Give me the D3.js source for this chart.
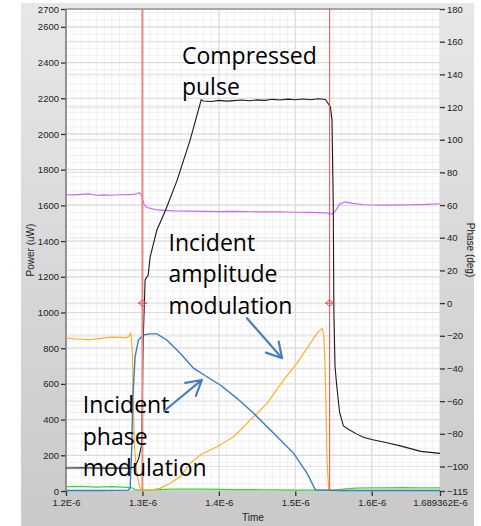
<!DOCTYPE html>
<html><head><meta charset="utf-8">
<script src="https://cdn.jsdelivr.net/npm/d3@7"></script>
<style>body{margin:0;background:#fff;} svg{display:block;}</style>
</head><body>
<svg id="c" width="481" height="526"></svg>
<script>
// ---------- data (time in units of 1E-6 s) ----------
const timeTicks = [1.2, 1.3, 1.4, 1.5, 1.6, 1.689362];
const timeTickLabels = ["1.2E-6", "1.3E-6", "1.4E-6", "1.5E-6", "1.6E-6", "1.689362E-6"];
const powerTicks = [0, 200, 400, 600, 800, 1000, 1200, 1400, 1600, 1800, 2000, 2200, 2400, 2600, 2700];
const phaseTicks = [180, 160, 140, 120, 100, 80, 60, 40, 20, 0, -20, -40, -60, -80, -100, -115];
const cursorTimes = [1.3, 1.545];
const cursorPhase = 0;

const compressedPulse = [
  [1.200,129],[1.220,130],[1.240,128],[1.260,129],[1.280,128],[1.2839,129],[1.2900,135],[1.2950,180],
  [1.2990,260],[1.3005,700],[1.3013,885],[1.3035,1182],[1.3075,1210],[1.3101,1311],[1.3189,1462],
  [1.3300,1570],[1.3451,1737],[1.3625,1967],[1.3769,2191],[1.3800,2185],[1.3900,2182],[1.4000,2188],
  [1.4100,2184],[1.4200,2187],[1.4300,2190],[1.4400,2186],[1.4500,2191],[1.4600,2188],[1.4700,2194],
  [1.4800,2190],[1.4900,2195],[1.5000,2192],[1.5100,2196],[1.5200,2192],[1.5300,2197],[1.5394,2193],
  [1.5460,2152],[1.5480,2079],[1.5497,1600],[1.5505,1000],[1.5520,700],[1.5540,600],[1.5580,440],
  [1.5630,365],[1.5700,345],[1.5800,320],[1.5900,300],[1.6000,288],[1.6200,270],[1.6400,250],
  [1.6640,222],[1.6894,211]
];
const phaseTrace = [
  [1.200,66.3],[1.210,66.2],[1.220,66.6],[1.230,66.8],[1.240,66.0],[1.250,66.2],[1.260,66.0],
  [1.270,66.3],[1.280,66.4],[1.290,66.5],[1.296,67.6],[1.299,66.0],[1.302,60.5],[1.306,58.5],
  [1.312,57.8],[1.320,57.0],[1.340,56.5],[1.360,56.3],[1.380,56.2],[1.400,56.0],[1.420,56.1],
  [1.440,55.9],[1.460,55.8],[1.480,55.9],[1.500,55.6],[1.520,55.5],[1.540,55.2],[1.548,54.4],
  [1.552,56.0],[1.558,60.5],[1.565,62.0],[1.575,61.0],[1.590,60.2],[1.620,60.0],[1.650,60.2],
  [1.670,60.4],[1.689362,60.8]
];
const amplitudeMod = [
  [1.200,858],[1.210,852],[1.220,850],[1.230,848],[1.240,852],[1.250,858],[1.260,862],[1.270,860],
  [1.278,858],[1.282,866],[1.2845,882],[1.2852,870],[1.2869,772],[1.2882,435],[1.2895,248],
  [1.2927,99],[1.2961,24],[1.2992,6],[1.310,5],[1.3232,15],[1.3363,43],[1.3494,80],[1.3625,155],
  [1.3756,202],[1.3975,248],[1.4193,304],[1.4412,398],[1.4630,491],[1.4848,622],[1.5024,716],
  [1.5198,828],[1.5286,884],[1.5351,911],[1.5372,874],[1.5385,753],[1.5404,435],[1.5417,155],
  [1.5438,6],[1.560,4],[1.600,3],[1.689362,3]
];
const phaseMod = [
  [1.200,3],[1.250,3],[1.2817,5],[1.2839,17],[1.2861,248],[1.2874,528],[1.2904,752],[1.2948,846],
  [1.3013,874],[1.3101,880],[1.3189,880],[1.3320,846],[1.3494,772],[1.3668,688],[1.3844,640],
  [1.4018,594],[1.4237,519],[1.4455,435],[1.4717,323],[1.4979,211],[1.5155,99],[1.5263,6],
  [1.560,3],[1.600,3],[1.689362,3]
];
const referenceTrace = [
  [1.200,24],[1.220,26],[1.240,22],[1.260,24],[1.280,20],[1.286,18],[1.290,8],[1.300,5],[1.320,8],
  [1.340,10],[1.360,10],[1.380,11],[1.400,9],[1.420,8],[1.440,8],[1.460,7],[1.480,6],[1.500,5],
  [1.520,5],[1.540,5],[1.550,4],[1.565,12],[1.580,16],[1.600,17],[1.620,18],[1.640,19],[1.660,18],
  [1.689362,17]
];
// annotations: [time, power] anchors
const labelCompressed = { lines: ["Compressed", "pulse"], at: [1.3517, 2393] };
const labelAmplitude = { lines: ["Incident", "amplitude", "modulation"], at: [1.3341, 1347] };
const labelPhase = { lines: ["Incident", "phase", "modulation"], at: [1.2219, 435] };
const arrowAmplitude = [[1.4368, 968], [1.4827, 744]];
const arrowPhase = [[1.3284, 448], [1.3778, 622]];

// ---------- layout ----------
const L = 66, R = 440, T = 9, B = 491;
const svg = d3.select("#c");
const x = d3.scaleLinear().domain([1.2, 1.689362]).range([L, R]);
const yP = d3.scaleLinear().domain([0, 2700]).range([B, T]);
const yPh = d3.scaleLinear().domain([-115, 180]).range([B, T]);

const defs = svg.append("defs");
const g = defs.append("linearGradient").attr("id", "bg").attr("x1", 0).attr("y1", 0).attr("x2", 0).attr("y2", 1);
g.append("stop").attr("offset", "0%").attr("stop-color", "#e7e7e7");
g.append("stop").attr("offset", "100%").attr("stop-color", "#c9c9c9");
defs.append("clipPath").attr("id", "clip").append("rect").attr("x", L).attr("y", T).attr("width", R - L).attr("height", B - T + 1);

svg.append("rect").attr("x", 21).attr("y", 3).attr("width", 453).attr("height", 523).attr("fill", "url(#bg)");
svg.append("rect").attr("x", L).attr("y", T).attr("width", R - L).attr("height", B - T).attr("fill", "#fff");

// grid
const grid = svg.append("g").attr("clip-path", "url(#clip)");
const minorT = d3.range(1.2, 1.6894, 0.01);
const minorP = d3.range(0, 2701, 40);
grid.selectAll(".mv").data(minorT).join("line")
  .attr("x1", d => x(d)).attr("x2", d => x(d)).attr("y1", T).attr("y2", B)
  .attr("stroke", "#f0f0f0").attr("stroke-width", 1);
grid.selectAll(".mh").data(minorP).join("line")
  .attr("x1", L).attr("x2", R).attr("y1", d => yP(d)).attr("y2", d => yP(d))
  .attr("stroke", "#f0f0f0").attr("stroke-width", 1);
grid.selectAll(".Mv").data(timeTicks).join("line")
  .attr("x1", d => x(d)).attr("x2", d => x(d)).attr("y1", T).attr("y2", B)
  .attr("stroke", "#dcdcdc").attr("stroke-width", 1.2);
grid.selectAll(".Mh").data(powerTicks).join("line")
  .attr("x1", L).attr("x2", R).attr("y1", d => yP(d)).attr("y2", d => yP(d))
  .attr("stroke", "#dcdcdc").attr("stroke-width", 1.2);
grid.selectAll(".Mh2").data(phaseTicks).join("line")
  .attr("x1", L).attr("x2", R).attr("y1", d => yPh(d)).attr("y2", d => yPh(d))
  .attr("stroke", "#e2e2e2").attr("stroke-width", 1.2);

// axes
const axisFont = "'Liberation Sans', Arial, sans-serif";
function styleAxis(sel) {
  sel.select(".domain").remove();
  sel.selectAll(".tick line").attr("stroke", "#333").attr("stroke-width", 1.3);
  sel.selectAll(".tick text").attr("fill", "#222").style("font-family", axisFont).style("font-size", "9.5px");
}
svg.append("g").attr("transform", `translate(${L},0)`)
  .call(d3.axisLeft(yP).tickValues(powerTicks).tickSize(5).tickPadding(2).tickFormat(d3.format("d")))
  .call(styleAxis);
svg.append("g").attr("transform", `translate(${R},0)`)
  .call(d3.axisRight(yPh).tickValues(phaseTicks).tickSize(5).tickPadding(2).tickFormat(d3.format("d")))
  .call(styleAxis);
svg.append("g").attr("transform", `translate(0,${B})`)
  .call(d3.axisBottom(x).tickValues(timeTicks).tickSize(5).tickPadding(3).tickFormat((d, i) => timeTickLabels[i]))
  .call(styleAxis);

// frame lines
svg.append("line").attr("x1", L).attr("x2", R).attr("y1", T).attr("y2", T).attr("stroke", "#666").attr("stroke-width", 1.2);
svg.append("line").attr("x1", L).attr("x2", L).attr("y1", T).attr("y2", B).attr("stroke", "#777").attr("stroke-width", 1.5);
svg.append("line").attr("x1", L).attr("x2", R).attr("y1", B).attr("y2", B).attr("stroke", "#bbb").attr("stroke-width", 1);

// axis titles
svg.append("text").attr("x", (L + R) / 2).attr("y", 521).attr("text-anchor", "middle")
  .style("font-family", axisFont).style("font-size", "10px").attr("fill", "#222").text("Time");
svg.append("text").attr("transform", `translate(34,250) rotate(-90)`).attr("text-anchor", "middle")
  .style("font-family", axisFont).style("font-size", "10px").attr("fill", "#222").text("Power (uW)");
svg.append("text").attr("transform", `translate(467,250) rotate(90)`).attr("text-anchor", "middle")
  .style("font-family", axisFont).style("font-size", "10px").attr("fill", "#222").text("Phase (deg)");

// traces
const plot = svg.append("g").attr("clip-path", "url(#clip)");
const lineP = d3.line().x(d => x(d[0])).y(d => yP(d[1]));
const linePh = d3.line().x(d => x(d[0])).y(d => yPh(d[1]));
plot.append("path").datum(referenceTrace).attr("d", lineP).attr("fill", "none").attr("stroke", "#2fdc2f").attr("stroke-width", 1.2);
plot.append("path").datum(phaseTrace).attr("d", linePh).attr("fill", "none").attr("stroke", "#cc66ff").attr("stroke-width", 1.2);
plot.append("path").datum(amplitudeMod).attr("d", lineP).attr("fill", "none").attr("stroke", "#fbb02a").attr("stroke-width", 1.2);
plot.append("path").datum(phaseMod).attr("d", lineP).attr("fill", "none").attr("stroke", "#3a7cc0").attr("stroke-width", 1.4);
plot.append("path").datum(compressedPulse).attr("d", lineP).attr("fill", "none").attr("stroke", "#1a1a1a").attr("stroke-width", 1.1);

// cursors
plot.append("line").attr("x1", x(cursorTimes[0])).attr("x2", x(cursorTimes[0])).attr("y1", T).attr("y2", B)
  .attr("stroke", "#f08585").attr("stroke-width", 2);
plot.append("line").attr("x1", x(cursorTimes[1])).attr("x2", x(cursorTimes[1])).attr("y1", T).attr("y2", B)
  .attr("stroke", "#ea4a4a").attr("stroke-width", 1);
cursorTimes.forEach(t => {
  const cx = x(t), cy = yPh(cursorPhase);
  const m = plot.append("g");
  m.append("path").attr("d", `M${cx - 3.5},${cy}L${cx},${cy - 3.5}L${cx + 3.5},${cy}L${cx},${cy + 3.5}Z`)
    .attr("fill", "none").attr("stroke", "#e85050").attr("stroke-width", 1);
  m.append("line").attr("x1", cx - 5).attr("x2", cx + 5).attr("y1", cy).attr("y2", cy).attr("stroke", "#e85050").attr("stroke-width", 1);
});

// annotations
const annFont = "'Open Sans', sans-serif";
[labelCompressed, labelAmplitude, labelPhase].forEach(lb => {
  const t = svg.append("text").attr("x", x(lb.at[0])).attr("y", yP(lb.at[1]))
    .style("font-family", annFont).style("font-size", "23px").attr("fill", "#000");
  lb.lines.forEach((s, i) => t.append("tspan").attr("x", x(lb.at[0])).attr("dy", i === 0 ? 0 : 31.5).text(s));
});
function arrow(a) {
  const x0 = x(a[0][0]), y0 = yP(a[0][1]), x1 = x(a[1][0]), y1 = yP(a[1][1]);
  const ang = Math.atan2(y1 - y0, x1 - x0), len = 17, spread = 0.52;
  const p = d3.path();
  p.moveTo(x0, y0); p.lineTo(x1, y1);
  p.moveTo(x1 - len * Math.cos(ang - spread), y1 - len * Math.sin(ang - spread));
  p.lineTo(x1, y1);
  p.lineTo(x1 - len * Math.cos(ang + spread), y1 - len * Math.sin(ang + spread));
  svg.append("path").attr("d", p.toString()).attr("fill", "none").attr("stroke", "#4a7ebb")
    .attr("stroke-width", 2.2).attr("stroke-linecap", "round").attr("stroke-linejoin", "round");
}
arrow(arrowAmplitude);
arrow(arrowPhase);
</script>
</body></html>
